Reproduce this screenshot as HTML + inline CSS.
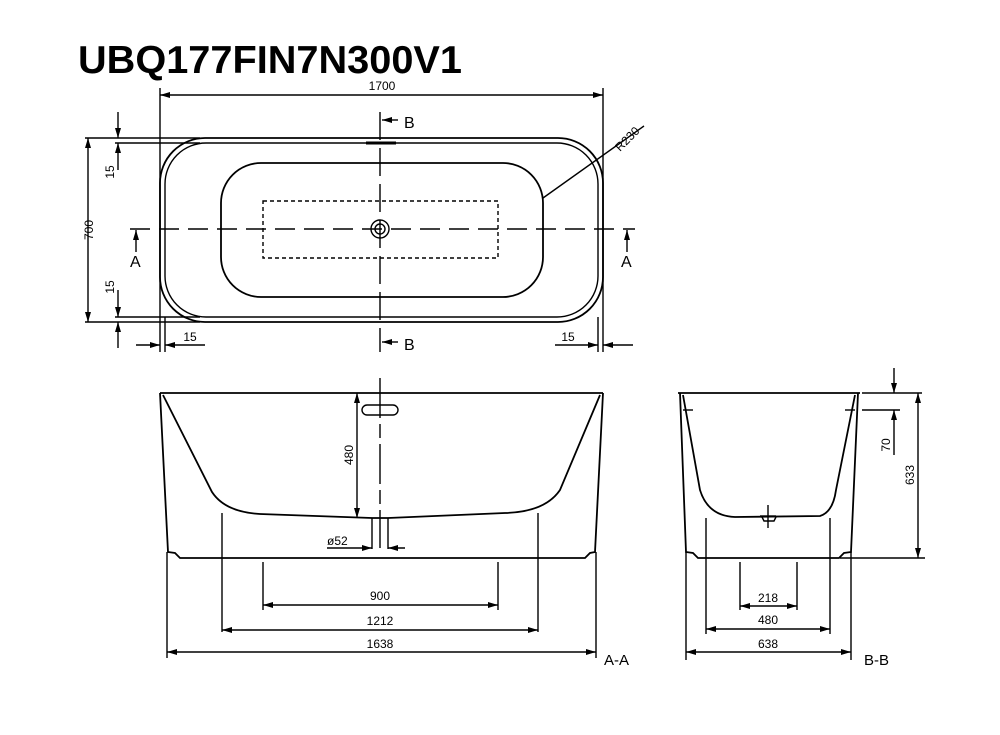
<!DOCTYPE html>
<html><head><meta charset="utf-8"><style>
html,body{margin:0;padding:0;background:#fff;}
svg{display:block;}
text{font-family:"Liberation Sans Narrow","Liberation Sans",sans-serif;font-size:12px;fill:#000;}
.t{font-family:"Liberation Sans",sans-serif;font-weight:bold;font-size:39px;}
</style></head><body>
<svg width="1000" height="735" viewBox="0 0 1000 735" xmlns="http://www.w3.org/2000/svg">
<defs>
<marker id="a" viewBox="0 0 10 6" refX="10" refY="3" markerWidth="10" markerHeight="6" markerUnits="userSpaceOnUse" orient="auto"><path d="M0,0L10,3L0,6z" fill="#000"/></marker>
<marker id="s" viewBox="0 0 10 6" refX="0" refY="3" markerWidth="10" markerHeight="6" markerUnits="userSpaceOnUse" orient="auto"><path d="M10,0L0,3L10,6z" fill="#000"/></marker>
</defs>
<text class="t" x="78" y="73" textLength="384" lengthAdjust="spacingAndGlyphs">UBQ177FIN7N300V1</text>
<g stroke="#000" stroke-width="1.4" fill="none">
<!-- top view -->
<line x1="160" y1="88" x2="160" y2="352"/><line x1="603" y1="88" x2="603" y2="352"/>
<line x1="160" y1="95" x2="603" y2="95" marker-start="url(#s)" marker-end="url(#a)"/>
<line x1="85" y1="138" x2="200" y2="138"/><line x1="85" y1="322" x2="200" y2="322"/>
<line x1="115" y1="143" x2="200" y2="143"/><line x1="115" y1="317" x2="200" y2="317"/>
<rect x="160" y="138" width="443" height="184" rx="45" stroke-width="1.8"/>
<rect x="165" y="143" width="433" height="174" rx="41" stroke-width="1.4"/>
<rect x="221" y="163" width="322" height="134" rx="40" stroke-width="1.8"/>
<rect x="263" y="201" width="235" height="57" stroke-dasharray="4,3" stroke-width="1.4"/>
<circle cx="380" cy="229" r="9"/><circle cx="380" cy="229" r="5"/>
<line x1="130" y1="229" x2="635" y2="229" stroke-dasharray="20,9"/>
<line x1="380" y1="112" x2="380" y2="352" stroke-dasharray="28,8"/>
<line x1="366" y1="143" x2="396" y2="143" stroke-width="3"/>
<line x1="398" y1="120" x2="382" y2="120" marker-end="url(#a)"/>
<line x1="398" y1="342" x2="382" y2="342" marker-end="url(#a)"/>
<line x1="136" y1="252" x2="136" y2="230" marker-end="url(#a)"/>
<line x1="627" y1="252" x2="627" y2="230" marker-end="url(#a)"/>
<line x1="543" y1="198" x2="644" y2="126"/>
<line x1="88" y1="138" x2="88" y2="322" marker-start="url(#s)" marker-end="url(#a)"/>
<line x1="118" y1="112" x2="118" y2="138" marker-end="url(#a)"/>
<line x1="118" y1="170" x2="118" y2="143" marker-end="url(#a)"/>
<line x1="118" y1="290" x2="118" y2="317" marker-end="url(#a)"/>
<line x1="118" y1="348" x2="118" y2="322" marker-end="url(#a)"/>
<line x1="165" y1="317" x2="165" y2="352"/><line x1="598" y1="317" x2="598" y2="352"/>
<line x1="136" y1="345" x2="160" y2="345" marker-end="url(#a)"/>
<line x1="205" y1="345" x2="165" y2="345" marker-end="url(#a)"/>
<line x1="555" y1="345" x2="598" y2="345" marker-end="url(#a)"/>
<line x1="633" y1="345" x2="603" y2="345" marker-end="url(#a)"/>
<!-- A-A -->
<line x1="160" y1="393" x2="603" y2="393" stroke-width="1.8"/>
<path d="M160,393 L168,552 L175,553 L180,558 L585,558 L590,553 L595,552 L603,393" stroke-width="1.8"/>
<path d="M163,395 L212,492 Q225,512 260,514 L372,518 L388,518 L505,513 Q545,512 560,490 L600,395" stroke-width="1.8"/>
<line x1="372" y1="518" x2="372" y2="549"/><line x1="388" y1="518" x2="388" y2="549"/>
<line x1="380" y1="378" x2="380" y2="548" stroke-dasharray="40,6,14,6"/>
<rect x="362" y="405" width="36" height="10" rx="5"/>
<line x1="357" y1="393" x2="357" y2="518" marker-start="url(#s)" marker-end="url(#a)"/>
<line x1="327" y1="548" x2="372" y2="548" marker-end="url(#a)"/>
<line x1="405" y1="548" x2="388" y2="548" marker-end="url(#a)"/>
<line x1="222" y1="513" x2="222" y2="632"/><line x1="538" y1="513" x2="538" y2="632"/>
<line x1="263" y1="562" x2="263" y2="610"/><line x1="498" y1="562" x2="498" y2="610"/>
<line x1="167" y1="552" x2="167" y2="658"/><line x1="596" y1="552" x2="596" y2="658"/>
<line x1="263" y1="605" x2="498" y2="605" marker-start="url(#s)" marker-end="url(#a)"/>
<line x1="222" y1="630" x2="538" y2="630" marker-start="url(#s)" marker-end="url(#a)"/>
<line x1="167" y1="652" x2="596" y2="652" marker-start="url(#s)" marker-end="url(#a)"/>
<!-- B-B -->
<line x1="678" y1="393" x2="860" y2="393" stroke-width="1.8"/>
<path d="M680,393 L686,552 L693,553 L698,558 L839,558 L844,553 L851,552 L858,393" stroke-width="1.8"/>
<path d="M683,395 L700,490 Q708,516 735,517 L820,516 Q833,512 836,490 L855,395" stroke-width="1.8"/>
<path d="M762,517 L764,521 L774,521 L776,517"/>
<line x1="768" y1="505" x2="768" y2="528"/><line x1="760" y1="516" x2="776" y2="516"/>
<line x1="683" y1="410" x2="693" y2="410"/><line x1="845" y1="410" x2="855" y2="410"/>
<line x1="862" y1="393" x2="922" y2="393"/><line x1="862" y1="410" x2="900" y2="410"/>
<line x1="894" y1="368" x2="894" y2="393" marker-end="url(#a)"/>
<line x1="894" y1="455" x2="894" y2="410" marker-end="url(#a)"/>
<line x1="918" y1="393" x2="918" y2="558" marker-start="url(#s)" marker-end="url(#a)"/>
<line x1="840" y1="558" x2="925" y2="558"/>
<line x1="706" y1="518" x2="706" y2="634"/><line x1="830" y1="518" x2="830" y2="634"/>
<line x1="740" y1="562" x2="740" y2="610"/><line x1="797" y1="562" x2="797" y2="610"/>
<line x1="686" y1="552" x2="686" y2="660"/><line x1="851" y1="552" x2="851" y2="660"/>
<line x1="740" y1="606" x2="797" y2="606" marker-start="url(#s)" marker-end="url(#a)"/>
<line x1="706" y1="629" x2="830" y2="629" marker-start="url(#s)" marker-end="url(#a)"/>
<line x1="686" y1="652" x2="851" y2="652" marker-start="url(#s)" marker-end="url(#a)"/>
</g>
<text x="382" y="90" text-anchor="middle">1700</text>
<text x="404" y="128" style="font-size:16px">B</text>
<text x="404" y="350" style="font-size:16px">B</text>
<text x="130" y="267" style="font-size:16px">A</text>
<text x="621" y="267" style="font-size:16px">A</text>
<text transform="translate(620,152) rotate(-45)">R230</text>
<text transform="translate(93,230) rotate(-90)" text-anchor="middle">700</text>
<text transform="translate(114,172) rotate(-90)" text-anchor="middle">15</text>
<text transform="translate(114,287) rotate(-90)" text-anchor="middle">15</text>
<text x="190" y="341" text-anchor="middle">15</text>
<text x="568" y="341" text-anchor="middle">15</text>
<text transform="translate(353,455) rotate(-90)" text-anchor="middle">480</text>
<text x="327" y="545">ø52</text>
<text x="380" y="600" text-anchor="middle">900</text>
<text x="380" y="625" text-anchor="middle">1212</text>
<text x="380" y="648" text-anchor="middle">1638</text>
<text x="604" y="665" style="font-size:15px">A-A</text>
<text transform="translate(890,445) rotate(-90)" text-anchor="middle">70</text>
<text transform="translate(914,475) rotate(-90)" text-anchor="middle">633</text>
<text x="768" y="602" text-anchor="middle">218</text>
<text x="768" y="624" text-anchor="middle">480</text>
<text x="768" y="648" text-anchor="middle">638</text>
<text x="864" y="665" style="font-size:15px">B-B</text>
</svg>
</body></html>
